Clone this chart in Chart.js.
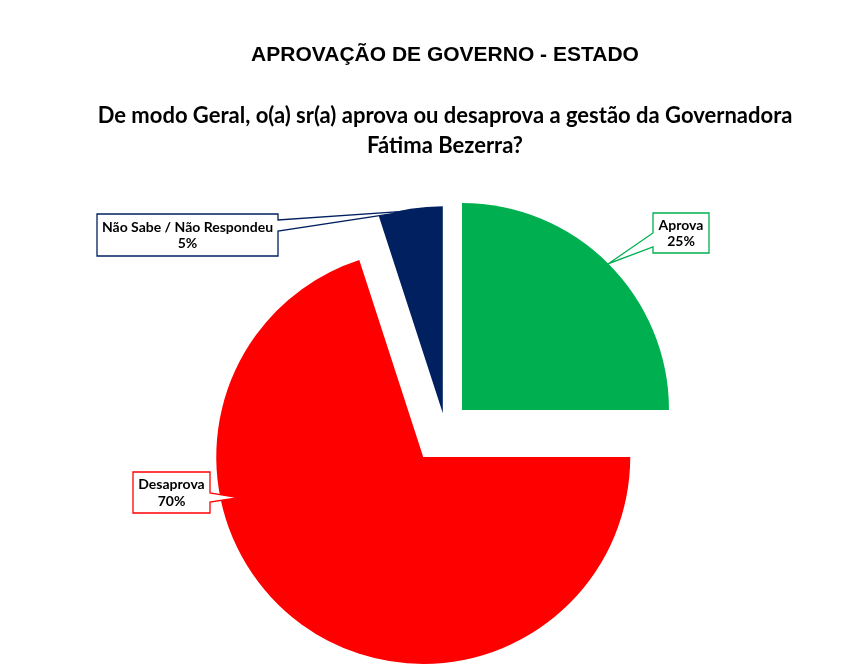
<!DOCTYPE html>
<html>
<head>
<meta charset="utf-8">
<script src="https://cdn.jsdelivr.net/npm/chart.js@4.4.1/dist/chart.umd.min.js"></script>
<style>
  html, body { margin: 0; padding: 0; background: #fff; }
  #wrap { width: 864px; height: 667px; }
</style>
</head>
<body>
<div id="wrap"><canvas id="pie"></canvas></div>
<script>
// chart data
var categories = ["Aprova", "Desaprova", "Não Sabe / Não Respondeu"];
var percents = [25, 70, 5];
var colors = ["#00B050", "#FF0000", "#002060"];
// how many px each slice is pulled out from the centre
var explode = [24, 37, 14];

var RADIUS = 207;

// callout boxes (layout only)
var callouts = [
  { box: [653, 213, 56, 40], side: "left", base: [233, 247], tipAngle: null, tipR: 1.0 },
  { box: [133, 472, 77, 41], side: "right", base: [493, 502], tipAngle: 257.6, tipR: 0.915 },
  { box: [97, 214, 181, 42], side: "right", base: [220, 231], tipAngle: null, tipR: 0.99 }
];

// explode slices by moving each arc along its middle angle
var explodeSlices = {
  id: "explodeSlices",
  afterDatasetUpdate: function (chart, args) {
    args.meta.data.forEach(function (arc, i) {
      var mid = (arc.startAngle + arc.endAngle) / 2;
      arc.x += Math.cos(mid) * explode[i];
      arc.y += Math.sin(mid) * explode[i];
    });
  }
};

// Excel style callout labels
var calloutLabels = {
  id: "calloutLabels",
  afterDatasetsDraw: function (chart) {
    var ctx = chart.ctx;
    var arcs = chart.getDatasetMeta(0).data;
    ctx.save();
    callouts.forEach(function (c, i) {
      var arc = arcs[i];
      var mid = (arc.startAngle + arc.endAngle) / 2;
      var ang = c.tipAngle === null ? mid : (c.tipAngle - 90) * Math.PI / 180;
      var tx = arc.x + Math.cos(ang) * arc.outerRadius * c.tipR;
      var ty = arc.y + Math.sin(ang) * arc.outerRadius * c.tipR;
      var x = c.box[0], y = c.box[1], w = c.box[2], h = c.box[3];

      ctx.beginPath();
      ctx.moveTo(x, y);
      ctx.lineTo(x + w, y);
      if (c.side === "right") {
        ctx.lineTo(x + w, c.base[0]);
        ctx.lineTo(tx, ty);
        ctx.lineTo(x + w, c.base[1]);
      }
      ctx.lineTo(x + w, y + h);
      ctx.lineTo(x, y + h);
      if (c.side === "left") {
        ctx.lineTo(x, c.base[1]);
        ctx.lineTo(tx, ty);
        ctx.lineTo(x, c.base[0]);
      }
      ctx.closePath();
      ctx.fillStyle = "#fff";
      ctx.fill();
      ctx.lineWidth = 1.3;
      ctx.strokeStyle = colors[i];
      ctx.stroke();

      ctx.fillStyle = "#000";
      ctx.font = "bold 14px Lato";
      ctx.textAlign = "center";
      ctx.textBaseline = "middle";
      ctx.fillText(categories[i], x + w / 2, y + h / 2 - 8);
      ctx.fillText(percents[i] + "%", x + w / 2, y + h / 2 + 8.5);
    });
    ctx.restore();
  }
};

new Chart(document.getElementById("pie"), {
  type: "pie",
  data: {
    labels: categories,
    datasets: [{
      data: percents,
      backgroundColor: colors,
      borderWidth: 0
    }]
  },
  options: {
    responsive: true,
    maintainAspectRatio: false,
    animation: false,
    radius: RADIUS,
    layout: { padding: { left: 26, right: 0, top: 0, bottom: 0 } },
    plugins: {
      legend: { display: false },
      tooltip: { enabled: false },
      title: {
        display: true,
        text: "APROVAÇÃO DE GOVERNO - ESTADO",
        color: "#000",
        font: { family: "Liberation Sans", size: 21, weight: "bold", lineHeight: 1.2 },
        padding: { top: 43, bottom: 33 }
      },
      subtitle: {
        display: true,
        text: ["De modo Geral, o(a) sr(a) aprova ou desaprova a gestão da Governadora", "Fátima Bezerra?"],
        color: "#000",
        font: { family: "Lato", size: 22, weight: "bold", lineHeight: 1.36 },
        padding: { top: 0, bottom: 26 }
      }
    }
  },
  plugins: [explodeSlices, calloutLabels]
});
</script>
</body>
</html>
